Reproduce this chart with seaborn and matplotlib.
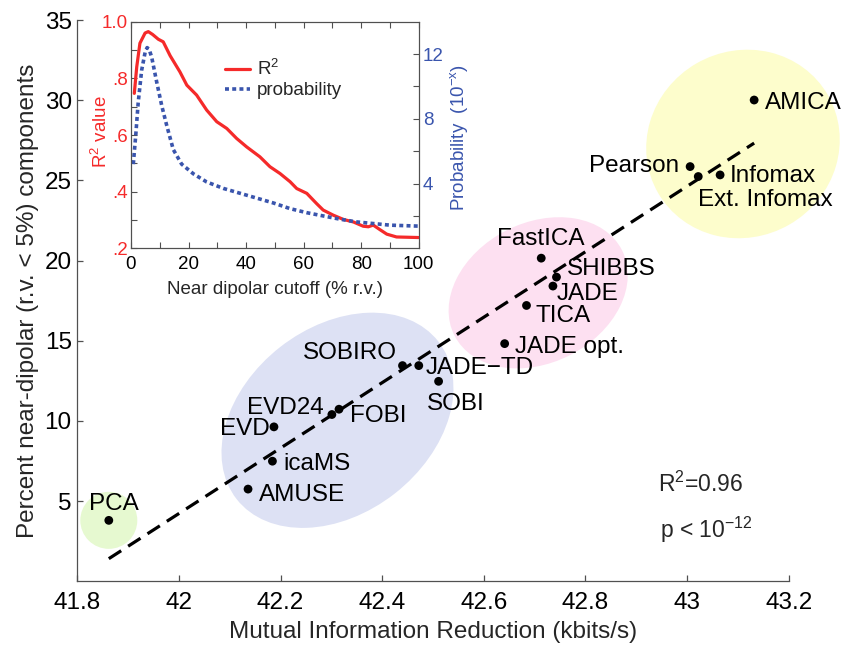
import numpy as np
import pandas as pd
import matplotlib
matplotlib.use('Agg')
import matplotlib.pyplot as plt
import seaborn as sns
from matplotlib.patches import Ellipse
from matplotlib.transforms import Affine2D
from matplotlib.lines import Line2D
from matplotlib.ticker import FixedLocator, FuncFormatter

# ---------------- data ----------------
methods = ['PCA', 'AMUSE', 'icaMS', 'EVD', 'EVD24', 'FOBI', 'SOBIRO', 'JADE\u2212TD',
           'SOBI', 'JADE opt.', 'TICA', 'JADE', 'SHIBBS', 'FastICA', 'Pearson',
           'Ext. Infomax', 'Infomax', 'AMICA']
mir = [41.862, 42.136, 42.184, 42.187, 42.301, 42.315, 42.440, 42.472,
       42.511, 42.641, 42.684, 42.736, 42.743, 42.713, 43.006,
       43.022, 43.065, 43.132]
pct = [3.80, 5.75, 7.49, 9.63, 10.40, 10.73, 13.45, 13.45,
       12.47, 14.82, 17.20, 18.41, 18.97, 20.15, 25.86,
       25.24, 25.34, 30.01]

# cluster ellipses: centre (x, y), semi-axes in pixels, angle (deg), colour
cluster_cx = [41.862, 42.312, 42.707, 43.110]
cluster_cy = [3.80, 10.04, 17.99, 27.27]
cluster_a = [28.5, 128, 94, 98]
cluster_b = [28.5, 93, 70, 93]
cluster_ang = [0, 38, 27, 30]
cluster_col = ['#e6f9d0', '#dde1f4', '#fde0f1', '#fdfdcc']

# inset curves
cut_r = [1.15, 2.0, 3.1, 4.9, 6.0, 7.5, 9.5, 11.2, 13.6, 17.0, 19.4, 22.8, 26.3,
         29.8, 33.3, 36.7, 40.2, 44.8, 48.3, 51.8, 55.3, 57.6, 61.1, 64.5,
         66.8, 70.3, 73.8, 77.3, 80.7, 82.5, 84.2, 86.5, 88.9, 92.3, 100]
r2 = [0.747, 0.841, 0.924, 0.960, 0.965, 0.955, 0.938, 0.929, 0.880, 0.823,
      0.776, 0.741, 0.688, 0.647, 0.623, 0.588, 0.558, 0.523, 0.488, 0.464,
      0.435, 0.411, 0.394, 0.358, 0.335, 0.317, 0.302, 0.293, 0.278, 0.276,
      0.282, 0.266, 0.250, 0.240, 0.238]
cut_p = [0.8, 1.7, 2.5, 3.7, 4.9, 5.6, 6.3, 7.2, 8.9, 10.7, 12.4, 14.7, 17.6,
         21.7, 26.3, 32.1, 37.9, 43.7, 49.5, 55.3, 61.1, 66.8, 72.6, 78.4,
         84.2, 90.0, 100]
prob = [5.2, 7.1, 9.0, 11.0, 12.1, 12.4, 12.3, 11.8, 10.3, 8.8, 7.6, 6.1, 5.2,
        4.6, 4.1, 3.7, 3.4, 3.1, 2.8, 2.45, 2.2, 2.0, 1.8, 1.63,
        1.53, 1.43, 1.37]

# label layout: (dx px, dy px up, ha) relative to the point, baseline aligned
label_pos = {
    'PCA': (5, 10, 'center'), 'AMUSE': (11, -11.7, 'left'), 'icaMS': (10.5, -9, 'left'),
    'EVD': (-4, -8.3, 'right'), 'EVD24': (-8, 1, 'right'), 'FOBI': (11, -12.7, 'left'),
    'SOBIRO': (-6, 7, 'right'), 'JADE\u2212TD': (6.5, -8.7, 'left'),
    'SOBI': (-11.6, -29, 'left'), 'JADE opt.': (10, -9, 'left'),
    'TICA': (9, -16.7, 'left'), 'JADE': (4, -14.3, 'left'), 'SHIBBS': (10.5, 1.7, 'left'),
    'FastICA': (-44.3, 12.7, 'left'), 'Pearson': (-10.5, -5.7, 'right'),
    'Ext. Infomax': (0, -29, 'left'), 'Infomax': (10, -7.4, 'left'), 'AMICA': (11, -9, 'left'),
}

# ---------------- style ----------------
sns.set_style('ticks')
plt.rcParams['font.family'] = ['Liberation Sans', 'DejaVu Sans']
plt.rcParams['mathtext.fontset'] = 'custom'
plt.rcParams['mathtext.rm'] = 'Liberation Sans'
plt.rcParams['mathtext.it'] = 'Liberation Sans:italic'
plt.rcParams['mathtext.bf'] = 'Liberation Sans:bold'
plt.rcParams['mathtext.default'] = 'regular'

RED = '#f52a2a'
BLUE = '#3a55ad'
SPINE = '#505050'
FS = 17.5
FSI = 13.5

W, H = 8.44, 6.48
fig = plt.figure(figsize=(W, H), dpi=100)
pos = [77.3 / 844, 1 - 581.3 / 648, (788.7 - 77.3) / 844, (581.3 - 20) / 648]
ax = fig.add_axes(pos)
ax.set_xlim(41.8, 43.2)
ax.set_ylim(0, 35)

# pixel scale factors
px_per_x = pos[2] * W * 100 / 1.4
px_per_y = pos[3] * H * 100 / 35
K = px_per_x / px_per_y
tr = Affine2D().scale(1, K) + ax.transData
for cx, cy, a, b, ang, col in zip(cluster_cx, cluster_cy, cluster_a, cluster_b, cluster_ang, cluster_col):
    e = Ellipse((cx, cy / K), 2 * a / px_per_x, 2 * b / px_per_x, angle=ang,
                transform=tr, facecolor=col, edgecolor='none', zorder=0, clip_on=False)
    ax.add_patch(e)

df = pd.DataFrame({'method': methods, 'mir': mir, 'pct': pct})
sns.regplot(data=df, x='mir', y='pct', scatter=False, ci=None, truncate=True, ax=ax,
            line_kws=dict(color='k', lw=2.3, dashes=(4.6, 2.6), zorder=2))
sns.scatterplot(data=df, x='mir', y='pct', color='k', s=40, edgecolor='none',
                ax=ax, legend=False, zorder=3)

for m, x, y in zip(methods, mir, pct):
    dx, dy, ha = label_pos[m]
    ax.annotate(m, (x, y), xytext=(dx, dy), textcoords='offset pixels',
                ha=ha, va='baseline', fontsize=FS, color='k', zorder=4)

ax.text(0.8167, 0.1586, r'R$^{2}$=0.96', transform=ax.transAxes, fontsize=FS - 1,
        ha='left', va='baseline')
ax.text(0.8192, 0.0766, r'p < 10$^{-12}$', transform=ax.transAxes, fontsize=FS - 1,
        ha='left', va='baseline')

ax.set_xticks(np.round(np.arange(41.8, 43.21, 0.2), 1))
ax.xaxis.set_major_formatter(FuncFormatter(lambda v, p: f'{v:g}'))
ax.set_yticks([5, 10, 15, 20, 25, 30, 35])
ax.tick_params(direction='in', length=4, width=0.9, color=SPINE, labelsize=FS,
               labelcolor='k')
ax.tick_params(axis='x', pad=7.5)
ax.tick_params(axis='y', pad=4)
sns.despine(ax=ax)
for s in ['left', 'bottom']:
    ax.spines[s].set_color(SPINE)
    ax.spines[s].set_linewidth(0.9)
ax.set_xlabel('Mutual Information Reduction (kbits/s)', fontsize=FS)
ax.set_ylabel('Percent near-dipolar (r.v. < 5%) components', fontsize=FS)
ax.xaxis.set_label_coords(0.5, -0.071)
ax.yaxis.set_label_coords(-0.0545, 0.5)

# ---------------- inset ----------------
ipos = [131 / 844, 1 - 248.3 / 648, (418.7 - 131) / 844, (248.3 - 21.7) / 648]
axin = fig.add_axes(ipos)
axin.set_facecolor('white')
axin2 = axin.twinx()
sns.lineplot(x=cut_r, y=r2, ax=axin, color=RED, lw=2.3, legend=False, zorder=3)
sns.lineplot(x=cut_p, y=prob, ax=axin2, color=BLUE, lw=2.6, legend=False,
             linestyle=(0, (1.1, 0.9)), zorder=2)
axin.set_xlim(0, 100)
axin.set_ylim(0.2, 1.0)
axin2.set_ylim(0, 14)
axin.set_xticks([0, 20, 40, 60, 80, 100])
axin.xaxis.set_minor_locator(FixedLocator([10, 30, 50, 70, 90]))
axin.set_yticks([0.2, 0.4, 0.6, 0.8, 1.0])
axin.set_yticklabels(['.2', '.4', '.6', '.8', '1.0'])
axin.yaxis.set_minor_locator(FixedLocator([0.3, 0.5, 0.7, 0.9]))
axin2.set_yticks([4, 8, 12])
axin2.yaxis.set_minor_locator(FixedLocator([2, 6, 10]))
for a_ in (axin, axin2):
    a_.tick_params(which='both', direction='in', color=SPINE, width=0.8, labelsize=FSI)
    a_.tick_params(which='major', length=4)
    a_.tick_params(which='minor', length=4)
    for s in a_.spines.values():
        s.set_color(SPINE)
        s.set_linewidth(0.8)
axin.tick_params(axis='x', which='both', top=True, pad=5.5, labelcolor='k')
axin.tick_params(axis='y', which='both', right=False, pad=2, labelcolor=RED)
axin2.tick_params(axis='y', which='both', left=False, pad=3, labelcolor=BLUE)
axin.set_xlabel('Near dipolar cutoff (% r.v.)', fontsize=FSI)
axin.set_ylabel(r'R$^{2}$ value', fontsize=FSI, color=RED)
axin2.set_ylabel(r'Probability  (10$^{-x}$)', fontsize=FSI, color=BLUE)
axin.xaxis.set_label_coords(0.5, -0.145)
axin.yaxis.set_label_coords(-0.071, 0.515)
axin2.yaxis.set_label_coords(1.1026, 0.489)

handles = [Line2D([], [], color=RED, lw=2.3),
           Line2D([], [], color=BLUE, lw=2.6, linestyle=(0, (1.1, 0.9)))]
axin2.legend(handles, [r'R$^{2}$', 'probability'], loc='upper left',
             bbox_to_anchor=(0.327, 0.834), frameon=False, fontsize=FSI,
             handlelength=1.35, handletextpad=0.35, labelspacing=0.15, borderpad=0,
             borderaxespad=0)

fig.savefig('out.png', dpi=100)
